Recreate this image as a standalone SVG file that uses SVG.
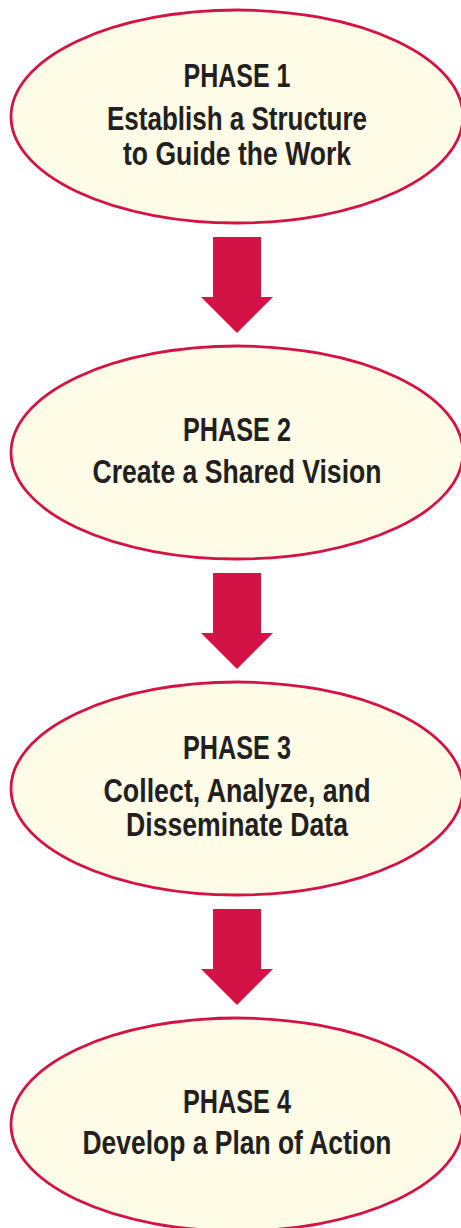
<svg xmlns="http://www.w3.org/2000/svg" width="461" height="1228" viewBox="0 0 461 1228">
<style>
.node{fill:#fefbe7;stroke:#d31245;stroke-width:2.8}
.t{font-family:"Liberation Sans Narrow","Liberation Sans",Arial,sans-serif;font-weight:bold;font-size:33px;fill:#231f20;text-anchor:middle}
.arrow{fill:#d31245}
</style>
<rect width="461" height="1228" fill="#ffffff"/>
<g id="connectors">
<path class="arrow" d="M213,237 H261 V297 H273 L237,333 L201,297 H213 Z"/>
<path class="arrow" d="M213,573 H261 V633 H273 L237,669 L201,633 H213 Z"/>
<path class="arrow" d="M213,909 H261 V969 H273 L237,1005 L201,969 H213 Z"/>
</g>
<g id="phase1">
<ellipse class="node" cx="237" cy="116.5" rx="226" ry="106.5"/>
<text class="t" x="237" y="87" textLength="107" lengthAdjust="spacingAndGlyphs">PHASE 1</text>
<text class="t" x="237" y="130" textLength="260" lengthAdjust="spacingAndGlyphs">Establish a Structure</text>
<text class="t" x="237" y="165" textLength="228" lengthAdjust="spacingAndGlyphs">to Guide the Work</text>
</g>
<g id="phase2">
<ellipse class="node" cx="237" cy="452.5" rx="226" ry="106.5"/>
<text class="t" x="237" y="441" textLength="108" lengthAdjust="spacingAndGlyphs">PHASE 2</text>
<text class="t" x="237" y="483" textLength="289" lengthAdjust="spacingAndGlyphs">Create a Shared Vision</text>
</g>
<g id="phase3">
<ellipse class="node" cx="237" cy="788.5" rx="226" ry="106.5"/>
<text class="t" x="237" y="759" textLength="108" lengthAdjust="spacingAndGlyphs">PHASE 3</text>
<text class="t" x="237" y="802" textLength="267" lengthAdjust="spacingAndGlyphs">Collect, Analyze, and</text>
<text class="t" x="237" y="836" textLength="222" lengthAdjust="spacingAndGlyphs">Disseminate Data</text>
</g>
<g id="phase4">
<ellipse class="node" cx="237" cy="1124.5" rx="226" ry="106.5"/>
<text class="t" x="237" y="1113" textLength="108" lengthAdjust="spacingAndGlyphs">PHASE 4</text>
<text class="t" x="237" y="1154" textLength="309" lengthAdjust="spacingAndGlyphs">Develop a Plan of Action</text>
</g>
</svg>
